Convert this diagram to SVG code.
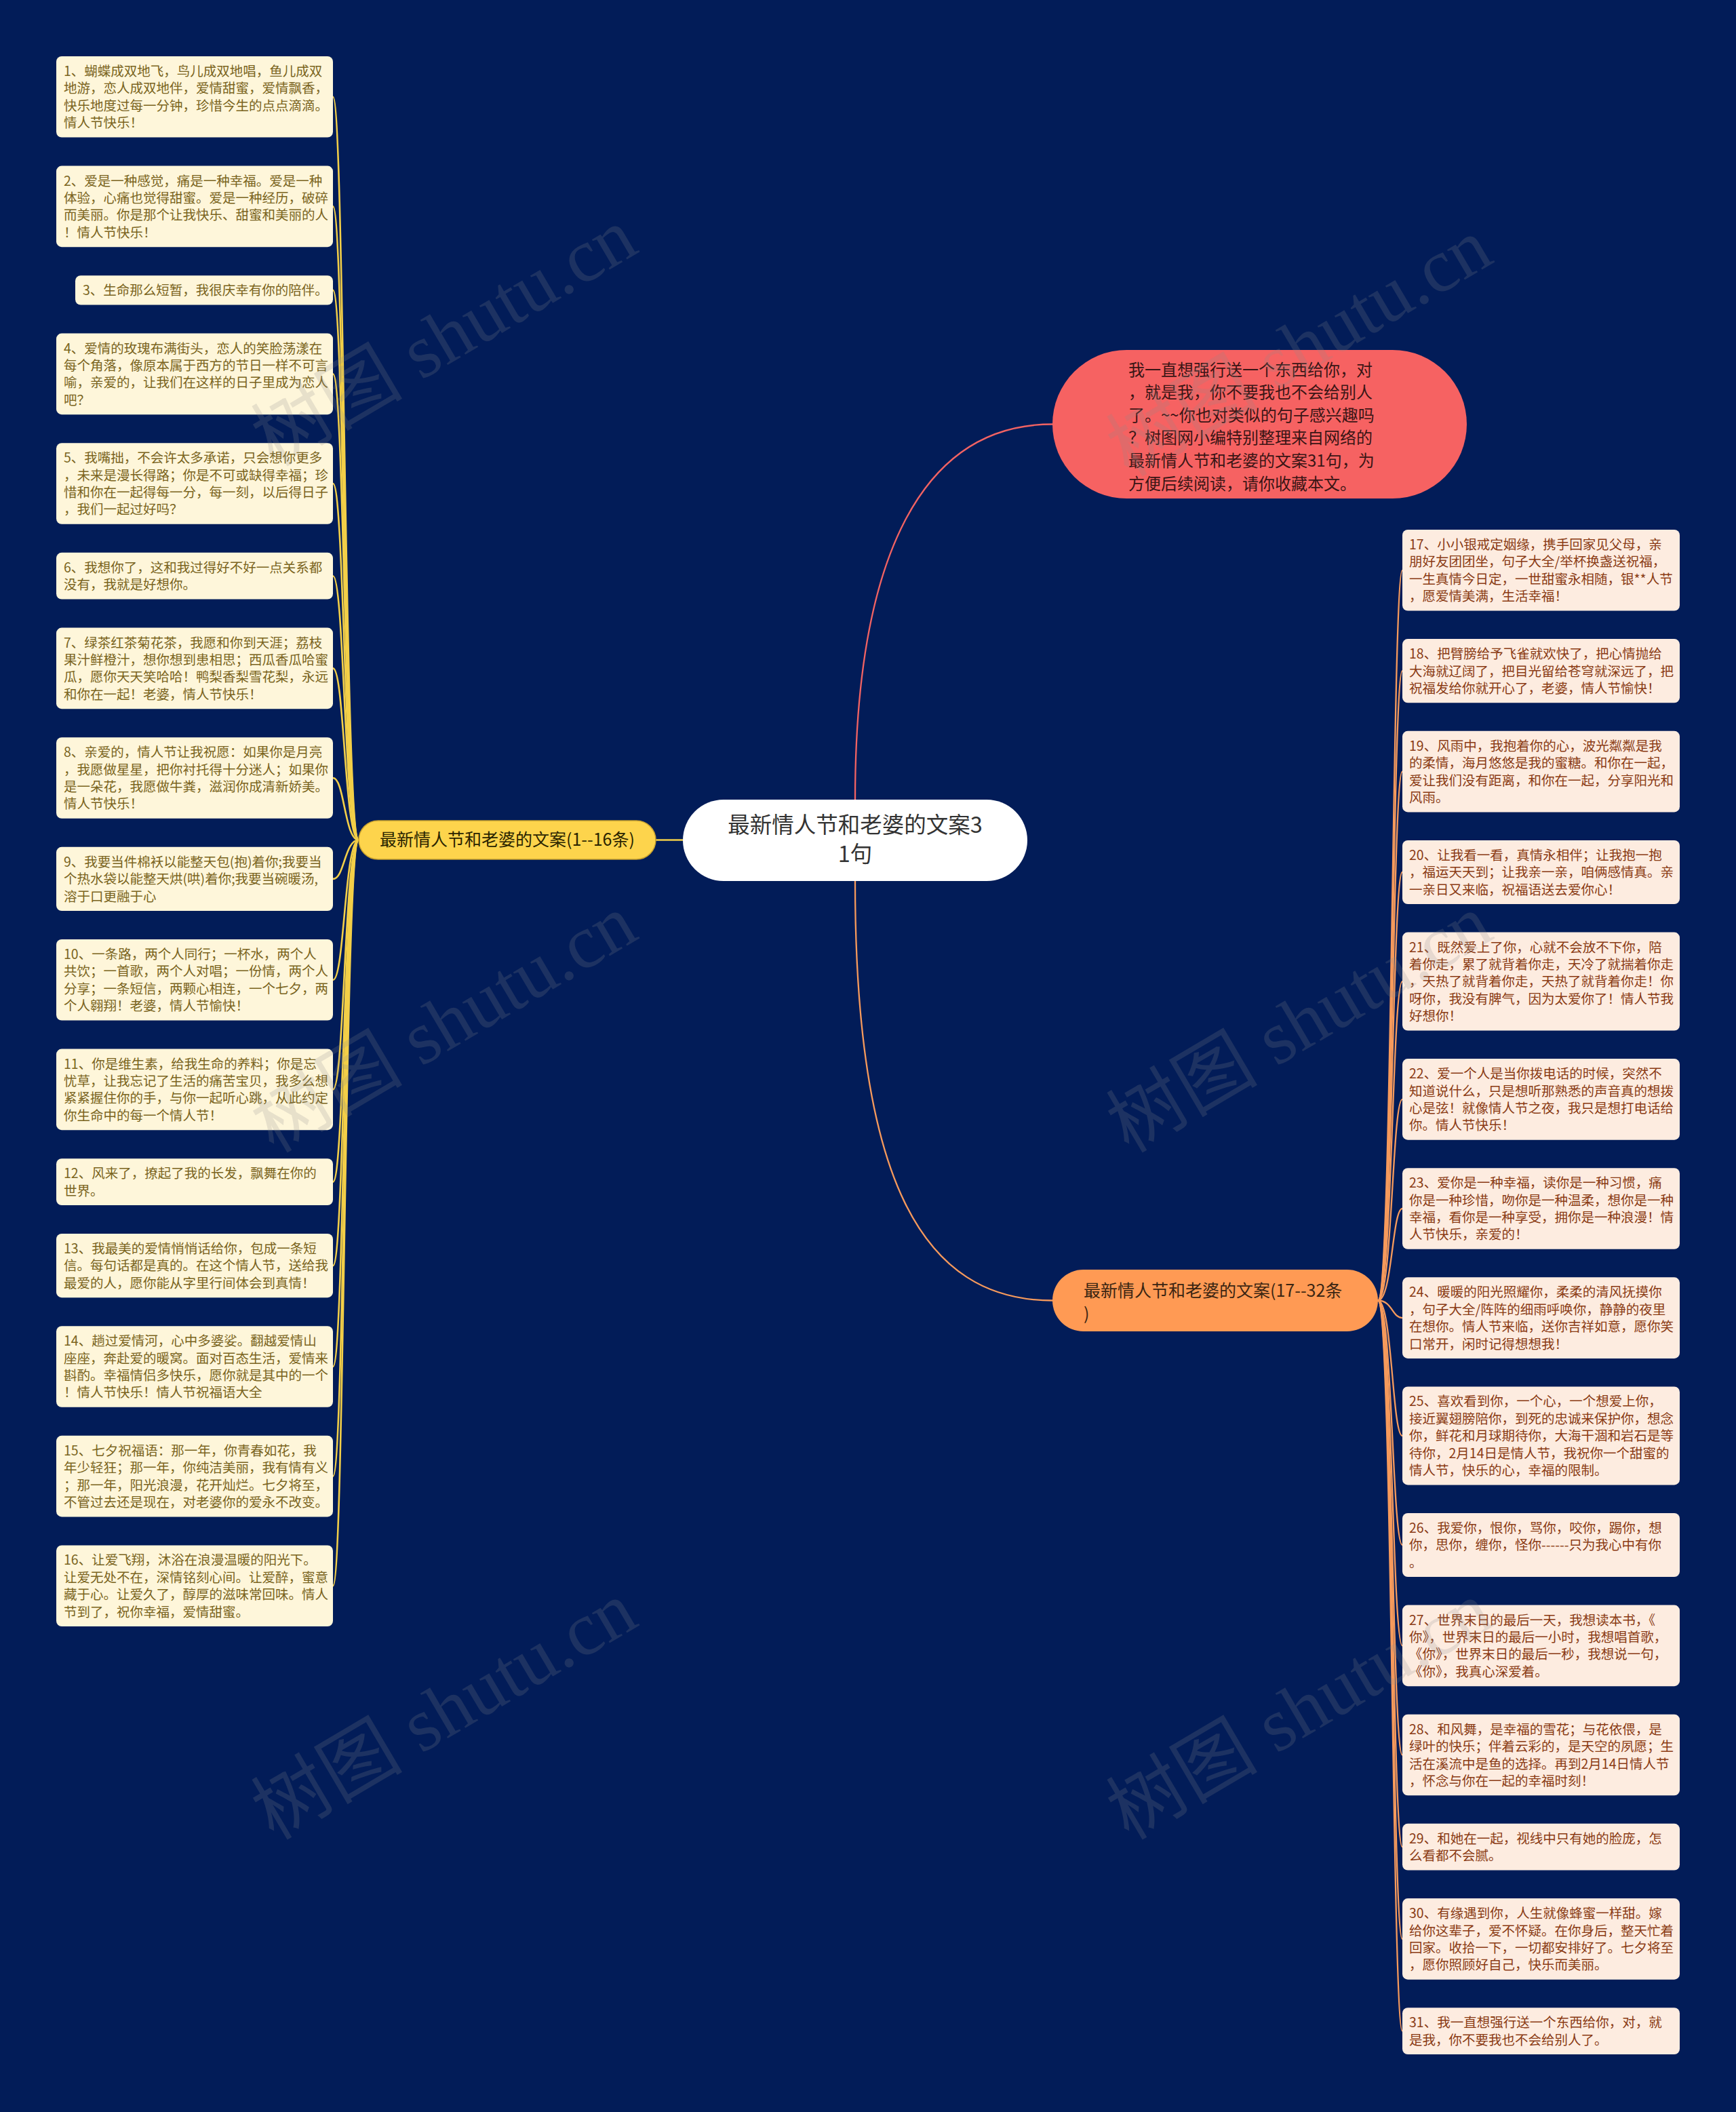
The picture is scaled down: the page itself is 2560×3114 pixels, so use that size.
<svg xmlns="http://www.w3.org/2000/svg" width="2560" height="3114" viewBox="0 0 2560 3114">
<style>
text{font-family:"Noto Sans CJK SC","Noto Sans",sans-serif;}
.lf{fill:#FEF6DA;}
.rf{fill:#FDECE0;}
.lt{font-size:19.5px;fill:#7A6420;}
.rt{font-size:19.5px;fill:#8A3B14;}
.yc{fill:none;stroke:#F3CF48;stroke-width:2.6;}
.oc{fill:none;stroke:#F69A5C;stroke-width:2.3;}
.wm{font-family:"Liberation Serif","Noto Sans CJK SC",serif;font-size:112px;fill:#8a8a8a;fill-opacity:0.2;text-anchor:middle;}
</style>
<rect x="0" y="0" width="2560" height="3114" fill="#021C58"/>
<g id="connectors">
<path d="M967 1238.5L1007 1238.5" class="yc"/>
<path d="M1261 1180C1261 820 1360 625.5 1552 625.5" fill="none" stroke="#F26363" stroke-width="2.3"/>
<path d="M1261 1299C1261 1740 1360 1917.5 1552 1917.5" class="oc"/>
<path d="M529 1238.5C508 1238.5 508 142.8 491 142.8" class="yc"/>
<path d="M529 1238.5C508 1238.5 508 304.4 491 304.4" class="yc"/>
<path d="M529 1238.5C508 1238.5 508 427.9 491 427.9" class="yc"/>
<path d="M529 1238.5C508 1238.5 508 551.4 491 551.4" class="yc"/>
<path d="M529 1238.5C508 1238.5 508 713 491 713" class="yc"/>
<path d="M529 1238.5C508 1238.5 508 849.2 491 849.2" class="yc"/>
<path d="M529 1238.5C508 1238.5 508 985.4 491 985.4" class="yc"/>
<path d="M529 1238.5C508 1238.5 508 1147 491 1147" class="yc"/>
<path d="M529 1238.5C508 1238.5 508 1295.9 491 1295.9" class="yc"/>
<path d="M529 1238.5C508 1238.5 508 1444.8 491 1444.8" class="yc"/>
<path d="M529 1238.5C508 1238.5 508 1606.4 491 1606.4" class="yc"/>
<path d="M529 1238.5C508 1238.5 508 1742.6 491 1742.6" class="yc"/>
<path d="M529 1238.5C508 1238.5 508 1866.1 491 1866.1" class="yc"/>
<path d="M529 1238.5C508 1238.5 508 2015 491 2015" class="yc"/>
<path d="M529 1238.5C508 1238.5 508 2176.6 491 2176.6" class="yc"/>
<path d="M529 1238.5C508 1238.5 508 2338.2 491 2338.2" class="yc"/>
<path d="M2032 1917.5C2053 1917.5 2053 840.8 2068 840.8" class="oc"/>
<path d="M2032 1917.5C2053 1917.5 2053 989.2 2068 989.2" class="oc"/>
<path d="M2032 1917.5C2053 1917.5 2053 1137.6 2068 1137.6" class="oc"/>
<path d="M2032 1917.5C2053 1917.5 2053 1286 2068 1286" class="oc"/>
<path d="M2032 1917.5C2053 1917.5 2053 1447.1 2068 1447.1" class="oc"/>
<path d="M2032 1917.5C2053 1917.5 2053 1620.9 2068 1620.9" class="oc"/>
<path d="M2032 1917.5C2053 1917.5 2053 1782 2068 1782" class="oc"/>
<path d="M2032 1917.5C2053 1917.5 2053 1943.1 2068 1943.1" class="oc"/>
<path d="M2032 1917.5C2053 1917.5 2053 2116.9 2068 2116.9" class="oc"/>
<path d="M2032 1917.5C2053 1917.5 2053 2278 2068 2278" class="oc"/>
<path d="M2032 1917.5C2053 1917.5 2053 2426.4 2068 2426.4" class="oc"/>
<path d="M2032 1917.5C2053 1917.5 2053 2587.5 2068 2587.5" class="oc"/>
<path d="M2032 1917.5C2053 1917.5 2053 2723.2 2068 2723.2" class="oc"/>
<path d="M2032 1917.5C2053 1917.5 2053 2858.9 2068 2858.9" class="oc"/>
<path d="M2032 1917.5C2053 1917.5 2053 2994.6 2068 2994.6" class="oc"/>
</g>
<g id="center">
<rect x="1007" y="1179" width="508" height="120" rx="60" fill="#FFFFFF"/>
<text font-size="32.5" fill="#333333" text-anchor="middle"><tspan x="1261" y="1228">最新情人节和老婆的文案3</tspan><tspan x="1261" y="1270.5">1句</tspan></text>
</g>
<g id="intro">
<rect x="1552" y="516" width="611" height="219" rx="109.5" fill="#F66262"/>
<text font-size="24" fill="#3A1515"><tspan x="1664" y="553.5">我一直想强行送一个东西给你，对</tspan><tspan x="1664" y="587.1">，就是我，你不要我也不会给别人</tspan><tspan x="1664" y="620.7">了。~~你也对类似的句子感兴趣吗</tspan><tspan x="1664" y="654.3">？树图网小编特别整理来自网络的</tspan><tspan x="1664" y="687.9">最新情人节和老婆的文案31句，为</tspan><tspan x="1664" y="721.5">方便后续阅读，请你收藏本文。</tspan></text>
</g>
<g id="branch-left">
<rect x="529" y="1210" width="438" height="57" rx="28.5" fill="#FDD44C" stroke="#C9A22E" stroke-width="1.5"/>
<text x="748" y="1247" font-size="25" fill="#2A2400" text-anchor="middle">最新情人节和老婆的文案(1--16条)</text>
</g>
<g id="branch-right">
<rect x="1552" y="1872" width="480" height="91" rx="45.5" fill="#FF9A54"/>
<text font-size="25" fill="#3A2512"><tspan x="1598" y="1912">最新情人节和老婆的文案(17--32条</tspan><tspan x="1598" y="1946">)</tspan></text>
</g>
<g id="leaf-1"><rect class="lf" x="83" y="83" width="408" height="119.6" rx="8"/><text class="lt"><tspan x="94" y="112">1、蝴蝶成双地飞，鸟儿成双地唱，鱼儿成双</tspan><tspan x="94" y="137.4">地游，恋人成双地伴，爱情甜蜜，爱情飘香，</tspan><tspan x="94" y="162.8">快乐地度过每一分钟，珍惜今生的点点滴滴。</tspan><tspan x="94" y="188.2">情人节快乐！</tspan></text></g>
<g id="leaf-2"><rect class="lf" x="83" y="244.6" width="408" height="119.6" rx="8"/><text class="lt"><tspan x="94" y="273.6">2、爱是一种感觉，痛是一种幸福。爱是一种</tspan><tspan x="94" y="299">体验，心痛也觉得甜蜜。爱是一种经历，破碎</tspan><tspan x="94" y="324.4">而美丽。你是那个让我快乐、甜蜜和美丽的人</tspan><tspan x="94" y="349.8">！情人节快乐！</tspan></text></g>
<g id="leaf-3"><rect class="lf" x="111" y="406.2" width="380" height="43.4" rx="8"/><text class="lt"><tspan x="122" y="435.2">3、生命那么短暂，我很庆幸有你的陪伴。</tspan></text></g>
<g id="leaf-4"><rect class="lf" x="83" y="491.6" width="408" height="119.6" rx="8"/><text class="lt"><tspan x="94" y="520.6">4、爱情的玫瑰布满街头，恋人的笑脸荡漾在</tspan><tspan x="94" y="546">每个角落，像原本属于西方的节日一样不可言</tspan><tspan x="94" y="571.4">喻，亲爱的，让我们在这样的日子里成为恋人</tspan><tspan x="94" y="596.8">吧？</tspan></text></g>
<g id="leaf-5"><rect class="lf" x="83" y="653.2" width="408" height="119.6" rx="8"/><text class="lt"><tspan x="94" y="682.2">5、我嘴拙，不会许太多承诺，只会想你更多</tspan><tspan x="94" y="707.6">，未来是漫长得路；你是不可或缺得幸福；珍</tspan><tspan x="94" y="733">惜和你在一起得每一分，每一刻，以后得日子</tspan><tspan x="94" y="758.4">，我们一起过好吗？</tspan></text></g>
<g id="leaf-6"><rect class="lf" x="83" y="814.8" width="408" height="68.8" rx="8"/><text class="lt"><tspan x="94" y="843.8">6、我想你了，这和我过得好不好一点关系都</tspan><tspan x="94" y="869.2">没有，我就是好想你。</tspan></text></g>
<g id="leaf-7"><rect class="lf" x="83" y="925.6" width="408" height="119.6" rx="8"/><text class="lt"><tspan x="94" y="954.6">7、绿茶红茶菊花茶，我愿和你到天涯；荔枝</tspan><tspan x="94" y="980">果汁鲜橙汁，想你想到患相思；西瓜香瓜哈蜜</tspan><tspan x="94" y="1005.4">瓜，愿你天天笑哈哈！鸭梨香梨雪花梨，永远</tspan><tspan x="94" y="1030.8">和你在一起！老婆，情人节快乐！</tspan></text></g>
<g id="leaf-8"><rect class="lf" x="83" y="1087.2" width="408" height="119.6" rx="8"/><text class="lt"><tspan x="94" y="1116.2">8、亲爱的，情人节让我祝愿：如果你是月亮</tspan><tspan x="94" y="1141.6">，我愿做星星，把你衬托得十分迷人；如果你</tspan><tspan x="94" y="1167">是一朵花，我愿做牛粪，滋润你成清新娇美。</tspan><tspan x="94" y="1192.4">情人节快乐！</tspan></text></g>
<g id="leaf-9"><rect class="lf" x="83" y="1248.8" width="408" height="94.2" rx="8"/><text class="lt"><tspan x="94" y="1277.8">9、我要当件棉袄以能整天包(抱)着你;我要当</tspan><tspan x="94" y="1303.2">个热水袋以能整天烘(哄)着你;我要当碗暖汤,</tspan><tspan x="94" y="1328.6">溶于口更融于心</tspan></text></g>
<g id="leaf-10"><rect class="lf" x="83" y="1385" width="408" height="119.6" rx="8"/><text class="lt"><tspan x="94" y="1414">10、一条路，两个人同行；一杯水，两个人</tspan><tspan x="94" y="1439.4">共饮；一首歌，两个人对唱；一份情，两个人</tspan><tspan x="94" y="1464.8">分享；一条短信，两颗心相连，一个七夕，两</tspan><tspan x="94" y="1490.2">个人翱翔！老婆，情人节愉快！</tspan></text></g>
<g id="leaf-11"><rect class="lf" x="83" y="1546.6" width="408" height="119.6" rx="8"/><text class="lt"><tspan x="94" y="1575.6">11、你是维生素，给我生命的养料；你是忘</tspan><tspan x="94" y="1601">忧草，让我忘记了生活的痛苦宝贝，我多么想</tspan><tspan x="94" y="1626.4">紧紧握住你的手，与你一起听心跳，从此约定</tspan><tspan x="94" y="1651.8">你生命中的每一个情人节！</tspan></text></g>
<g id="leaf-12"><rect class="lf" x="83" y="1708.2" width="408" height="68.8" rx="8"/><text class="lt"><tspan x="94" y="1737.2">12、风来了，撩起了我的长发，飘舞在你的</tspan><tspan x="94" y="1762.6">世界。</tspan></text></g>
<g id="leaf-13"><rect class="lf" x="83" y="1819" width="408" height="94.2" rx="8"/><text class="lt"><tspan x="94" y="1848">13、我最美的爱情悄悄话给你，包成一条短</tspan><tspan x="94" y="1873.4">信。每句话都是真的。在这个情人节，送给我</tspan><tspan x="94" y="1898.8">最爱的人，愿你能从字里行间体会到真情！</tspan></text></g>
<g id="leaf-14"><rect class="lf" x="83" y="1955.2" width="408" height="119.6" rx="8"/><text class="lt"><tspan x="94" y="1984.2">14、趟过爱情河，心中多婆娑。翻越爱情山</tspan><tspan x="94" y="2009.6">座座，奔赴爱的暖窝。面对百态生活，爱情来</tspan><tspan x="94" y="2035">斟酌。幸福情侣多快乐，愿你就是其中的一个</tspan><tspan x="94" y="2060.4">！情人节快乐！情人节祝福语大全</tspan></text></g>
<g id="leaf-15"><rect class="lf" x="83" y="2116.8" width="408" height="119.6" rx="8"/><text class="lt"><tspan x="94" y="2145.8">15、七夕祝福语：那一年，你青春如花，我</tspan><tspan x="94" y="2171.2">年少轻狂；那一年，你纯洁美丽，我有情有义</tspan><tspan x="94" y="2196.6">；那一年，阳光浪漫，花开灿烂。七夕将至，</tspan><tspan x="94" y="2222">不管过去还是现在，对老婆你的爱永不改变。</tspan></text></g>
<g id="leaf-16"><rect class="lf" x="83" y="2278.4" width="408" height="119.6" rx="8"/><text class="lt"><tspan x="94" y="2307.4">16、让爱飞翔，沐浴在浪漫温暖的阳光下。</tspan><tspan x="94" y="2332.8">让爱无处不在，深情铭刻心间。让爱醉，蜜意</tspan><tspan x="94" y="2358.2">藏于心。让爱久了，醇厚的滋味常回味。情人</tspan><tspan x="94" y="2383.6">节到了，祝你幸福，爱情甜蜜。</tspan></text></g>
<g id="leaf-17"><rect class="rf" x="2068" y="781" width="409" height="119.6" rx="8"/><text class="rt"><tspan x="2078" y="810">17、小小银戒定姻缘，携手回家见父母，亲</tspan><tspan x="2078" y="835.4">朋好友团团坐，句子大全/举杯换盏送祝福，</tspan><tspan x="2078" y="860.8">一生真情今日定，一世甜蜜永相随，银**人节</tspan><tspan x="2078" y="886.2">，愿爱情美满，生活幸福！</tspan></text></g>
<g id="leaf-18"><rect class="rf" x="2068" y="942.1" width="409" height="94.2" rx="8"/><text class="rt"><tspan x="2078" y="971.1">18、把臂膀给予飞雀就欢快了，把心情抛给</tspan><tspan x="2078" y="996.5">大海就辽阔了，把目光留给苍穹就深远了，把</tspan><tspan x="2078" y="1021.9">祝福发给你就开心了，老婆，情人节愉快！</tspan></text></g>
<g id="leaf-19"><rect class="rf" x="2068" y="1077.8" width="409" height="119.6" rx="8"/><text class="rt"><tspan x="2078" y="1106.8">19、风雨中，我抱着你的心，波光粼粼是我</tspan><tspan x="2078" y="1132.2">的柔情，海月悠悠是我的蜜糖。和你在一起，</tspan><tspan x="2078" y="1157.6">爱让我们没有距离，和你在一起，分享阳光和</tspan><tspan x="2078" y="1183">风雨。</tspan></text></g>
<g id="leaf-20"><rect class="rf" x="2068" y="1238.9" width="409" height="94.2" rx="8"/><text class="rt"><tspan x="2078" y="1267.9">20、让我看一看，真情永相伴；让我抱一抱</tspan><tspan x="2078" y="1293.3">，福运天天到；让我亲一亲，咱俩感情真。亲</tspan><tspan x="2078" y="1318.7">一亲日又来临，祝福语送去爱你心！</tspan></text></g>
<g id="leaf-21"><rect class="rf" x="2068" y="1374.6" width="409" height="145" rx="8"/><text class="rt"><tspan x="2078" y="1403.6">21、既然爱上了你，心就不会放不下你，陪</tspan><tspan x="2078" y="1429">着你走，累了就背着你走，天冷了就揣着你走</tspan><tspan x="2078" y="1454.4">，天热了就背着你走，天热了就背着你走！你</tspan><tspan x="2078" y="1479.8">呀你，我没有脾气，因为太爱你了！情人节我</tspan><tspan x="2078" y="1505.2">好想你！</tspan></text></g>
<g id="leaf-22"><rect class="rf" x="2068" y="1561.1" width="409" height="119.6" rx="8"/><text class="rt"><tspan x="2078" y="1590.1">22、爱一个人是当你拨电话的时候，突然不</tspan><tspan x="2078" y="1615.5">知道说什么，只是想听那熟悉的声音真的想拨</tspan><tspan x="2078" y="1640.9">心是弦！就像情人节之夜，我只是想打电话给</tspan><tspan x="2078" y="1666.3">你。情人节快乐！</tspan></text></g>
<g id="leaf-23"><rect class="rf" x="2068" y="1722.2" width="409" height="119.6" rx="8"/><text class="rt"><tspan x="2078" y="1751.2">23、爱你是一种幸福，读你是一种习惯，痛</tspan><tspan x="2078" y="1776.6">你是一种珍惜，吻你是一种温柔，想你是一种</tspan><tspan x="2078" y="1802">幸福，看你是一种享受，拥你是一种浪漫！情</tspan><tspan x="2078" y="1827.4">人节快乐，亲爱的！</tspan></text></g>
<g id="leaf-24"><rect class="rf" x="2068" y="1883.3" width="409" height="119.6" rx="8"/><text class="rt"><tspan x="2078" y="1912.3">24、暖暖的阳光照耀你，柔柔的清风抚摸你</tspan><tspan x="2078" y="1937.7">，句子大全/阵阵的细雨呼唤你，静静的夜里</tspan><tspan x="2078" y="1963.1">在想你。情人节来临，送你吉祥如意，愿你笑</tspan><tspan x="2078" y="1988.5">口常开，闲时记得想想我！</tspan></text></g>
<g id="leaf-25"><rect class="rf" x="2068" y="2044.4" width="409" height="145" rx="8"/><text class="rt"><tspan x="2078" y="2073.4">25、喜欢看到你，一个心，一个想爱上你，</tspan><tspan x="2078" y="2098.8">接近翼翅膀陪你，到死的忠诚来保护你，想念</tspan><tspan x="2078" y="2124.2">你，鲜花和月球期待你，大海干涸和岩石是等</tspan><tspan x="2078" y="2149.6">待你，2月14日是情人节，我祝你一个甜蜜的</tspan><tspan x="2078" y="2175">情人节，快乐的心，幸福的限制。</tspan></text></g>
<g id="leaf-26"><rect class="rf" x="2068" y="2230.9" width="409" height="94.2" rx="8"/><text class="rt"><tspan x="2078" y="2259.9">26、我爱你，恨你，骂你，咬你，踢你，想</tspan><tspan x="2078" y="2285.3">你，思你，缠你，怪你------只为我心中有你</tspan><tspan x="2078" y="2310.7">。</tspan></text></g>
<g id="leaf-27"><rect class="rf" x="2068" y="2366.6" width="409" height="119.6" rx="8"/><text class="rt"><tspan x="2078" y="2395.6">27、世界末日的最后一天，我想读本书，《</tspan><tspan x="2078" y="2421">你》，世界末日的最后一小时，我想唱首歌，</tspan><tspan x="2078" y="2446.4">《你》，世界末日的最后一秒，我想说一句，</tspan><tspan x="2078" y="2471.8">《你》，我真心深爱着。</tspan></text></g>
<g id="leaf-28"><rect class="rf" x="2068" y="2527.7" width="409" height="119.6" rx="8"/><text class="rt"><tspan x="2078" y="2556.7">28、和风舞，是幸福的雪花；与花依偎，是</tspan><tspan x="2078" y="2582.1">绿叶的快乐；伴着云彩的，是天空的夙愿；生</tspan><tspan x="2078" y="2607.5">活在溪流中是鱼的选择。再到2月14日情人节</tspan><tspan x="2078" y="2632.9">，怀念与你在一起的幸福时刻！</tspan></text></g>
<g id="leaf-29"><rect class="rf" x="2068" y="2688.8" width="409" height="68.8" rx="8"/><text class="rt"><tspan x="2078" y="2717.8">29、和她在一起，视线中只有她的脸庞，怎</tspan><tspan x="2078" y="2743.2">么看都不会腻。</tspan></text></g>
<g id="leaf-30"><rect class="rf" x="2068" y="2799.1" width="409" height="119.6" rx="8"/><text class="rt"><tspan x="2078" y="2828.1">30、有缘遇到你，人生就像蜂蜜一样甜。嫁</tspan><tspan x="2078" y="2853.5">给你这辈子，爱不怀疑。在你身后，整天忙着</tspan><tspan x="2078" y="2878.9">回家。收拾一下，一切都安排好了。七夕将至</tspan><tspan x="2078" y="2904.3">，愿你照顾好自己，快乐而美丽。</tspan></text></g>
<g id="leaf-31"><rect class="rf" x="2068" y="2960.2" width="409" height="68.8" rx="8"/><text class="rt"><tspan x="2078" y="2989.2">31、我一直想强行送一个东西给你，对，就</tspan><tspan x="2078" y="3014.6">是我，你不要我也不会给别人了。</tspan></text></g>
<g id="watermark">
<text class="wm" transform="translate(655 497) rotate(-30.5)" y="38">树图 shutu.cn</text>
<text class="wm" transform="translate(655 1509) rotate(-30.5)" y="38">树图 shutu.cn</text>
<text class="wm" transform="translate(655 2522) rotate(-30.5)" y="38">树图 shutu.cn</text>
<text class="wm" transform="translate(1916 512) rotate(-30.5)" y="38">树图 shutu.cn</text>
<text class="wm" transform="translate(1916 1509) rotate(-30.5)" y="38">树图 shutu.cn</text>
<text class="wm" transform="translate(1916 2522) rotate(-30.5)" y="38">树图 shutu.cn</text>
</g>
</svg>
